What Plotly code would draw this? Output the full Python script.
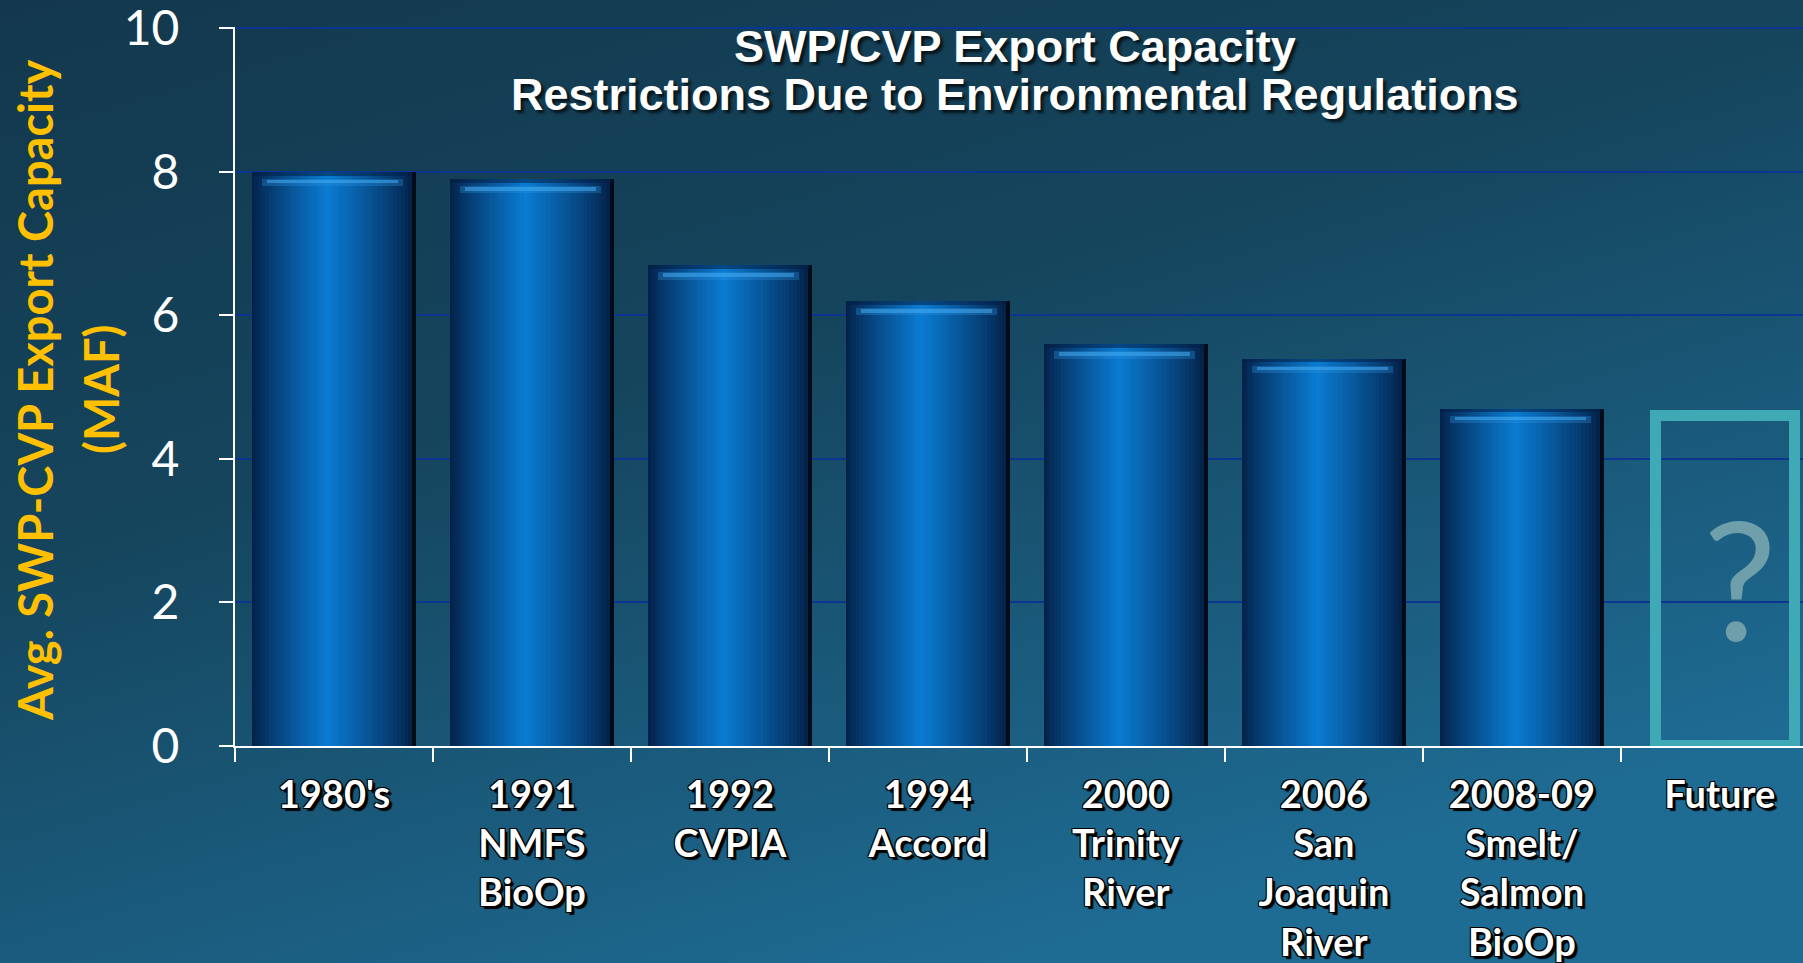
import base64
import plotly.graph_objects as go

# ---------------- data ----------------
categories = ["1980's", "1991<br>NMFS<br>BioOp", "1992<br>CVPIA", "1994<br>Accord",
              "2000<br>Trinity<br>River", "2006<br>San<br>Joaquin<br>River",
              "2008-09<br>Smelt/<br>Salmon<br>BioOp"]
capacity = [8.0, 7.9, 6.7, 6.2, 5.6, 5.4, 4.7]
future_category = ["Future"]
future_value = [4.6]
y_ticks = [0, 2, 4, 6, 8, 10]
title_lines = ["SWP/CVP Export Capacity", "Restrictions Due to Environmental Regulations"]
ytitle_lines = ["Avg. SWP-CVP Export Capacity", "(MAF)"]

W, H = 1803, 963
ML, MR, MT, MB = 235, 0, 27, 217
PW, PH = W - ML - MR, H - MT - MB

fig = go.Figure()

# background gradient (svg data uri)
svg = f'''<svg xmlns="http://www.w3.org/2000/svg" width="{W}" height="{H}" preserveAspectRatio="none" viewBox="0 0 {W} {H}">
<defs><linearGradient id="g" x1="0" y1="0" x2="0.55" y2="1">
<stop offset="0" stop-color="#13384d"/><stop offset="0.45" stop-color="#15455d"/>
<stop offset="1" stop-color="#1e6b93"/></linearGradient></defs>
<rect x="0" y="0" width="{W}" height="{H}" fill="url(#g)"/></svg>'''
src = "data:image/svg+xml;base64," + base64.b64encode(svg.encode()).decode()
fig.add_layout_image(dict(source=src, xref="paper", yref="paper",
                          x=-ML / PW, y=1 + MT / PH, sizex=W / PW, sizey=H / PH,
                          sizing="stretch", xanchor="left", yanchor="top", layer="below"))


def mix(c1, c2, t):
    a = [int(c1[i:i + 2], 16) for i in (1, 3, 5)]
    b = [int(c2[i:i + 2], 16) for i in (1, 3, 5)]
    return "#" + "".join(f"{round(x + (y - x) * t):02x}" for x, y in zip(a, b))


# cylinder-look bars: nested overlaid layers give a horizontal gradient
BW = 0.83
layers = [(0.0, 1.0, "#020b18"), (0.0, 0.975, "#04234a")]
N = 22
for k in range(1, N + 1):
    t = k / N
    layers.append((0.45 * t, 0.975 - 0.505 * t, mix("#04234a", "#0a7bd2", t ** 0.85)))
for l, r, c in layers:
    fig.add_trace(go.Bar(x=categories, y=capacity, width=(r - l) * BW,
                         offset=-BW / 2 + l * BW, marker=dict(color=c, line=dict(width=0)),
                         hoverinfo="skip", showlegend=False))
# top bevel: darker rim then a soft light band
fig.add_trace(go.Bar(x=categories, y=[0.05] * len(capacity), base=[v - 0.05 for v in capacity],
                     width=BW * 0.98, offset=-BW * 0.5,
                     marker=dict(color="rgba(3,30,70,0.55)", line=dict(width=0)),
                     hoverinfo="skip", showlegend=False))
fig.add_trace(go.Bar(x=categories, y=[0.1] * len(capacity), base=[v - 0.2 for v in capacity],
                     width=BW * 0.86, offset=-BW * 0.44,
                     marker=dict(color="rgba(50,150,225,0.3)", line=dict(width=0)),
                     hoverinfo="skip", showlegend=False))
fig.add_trace(go.Bar(x=categories, y=[0.045] * len(capacity), base=[v - 0.16 for v in capacity],
                     width=BW * 0.8, offset=-BW * 0.41,
                     marker=dict(color="rgba(70,175,245,0.5)", line=dict(width=0)),
                     hoverinfo="skip", showlegend=False))

# future placeholder box
fig.add_trace(go.Bar(x=future_category, y=future_value, width=0.7, offset=-0.32,
                     marker=dict(color="rgba(0,0,0,0)", line=dict(color="#3fa9b5", width=11)),
                     hoverinfo="skip", showlegend=False))

fig.add_annotation(x=7.1, y=2.35, xref="x", yref="y", text="?", showarrow=False,
                   font=dict(family="Lato", size=165, color="#6e9faa"))

# titles
title_font = dict(family="Liberation Sans, Arial, sans-serif", size=45, color="white",
                  weight="bold", shadow="3px 3px 3px rgba(0,0,0,0.7)")
fig.add_annotation(x=0.4975, y=(PH - 19) / PH, xref="paper", yref="paper",
                   text=title_lines[0], showarrow=False, yanchor="middle", font=title_font)
fig.add_annotation(x=0.4975, y=(PH - 68) / PH, xref="paper", yref="paper",
                   text=title_lines[1], showarrow=False, yanchor="middle", font=title_font)

# y title
for txt, xc in zip(ytitle_lines, [35, 101]):
    fig.add_annotation(x=(xc - ML) / PW, y=(746 - 390) / PH, xref="paper", yref="paper",
                       text=txt, showarrow=False, textangle=-90,
                       xanchor="center", yanchor="middle",
                       font=dict(family="Lato", size=47, color="#ffc000", weight="bold"))

fig.update_layout(
    width=W, height=H, margin=dict(l=ML, r=MR, t=MT, b=MB, pad=0), autosize=False,
    paper_bgcolor="#1a5878", plot_bgcolor="rgba(0,0,0,0)",
    barmode="overlay", bargap=0, showlegend=False,
    xaxis=dict(type="category", categoryorder="array", categoryarray=categories + future_category,
               range=[-0.5, 7.42], tickson="boundaries", ticks="outside", ticklen=14,
               tickwidth=2, tickcolor="white", showline=True, linecolor="white", linewidth=2,
               showgrid=False, ticklabelstandoff=14, automargin=False,
               tickfont=dict(family="Lato", size=38, color="white", weight="bold",
                             shadow="-1px -1px 0 #000, 1px -1px 0 #000, -1px 1px 0 #000, 1px 1px 0 #000, 3px 3px 1px #000")),
    yaxis=dict(range=[0, 10.02], tickvals=y_ticks, ticks="outside", ticklen=14, tickwidth=2,
               tickcolor="white", showline=True, linecolor="white", linewidth=2,
               showgrid=True, gridcolor="#0b3590", gridwidth=2, zeroline=False,
               ticklabelstandoff=30, automargin=False, ticklabeloverflow="allow",
               tickfont=dict(family="Lato", size=48, color="white")),
)

fig.write_html("out.html", config={"displayModeBar": False},
               post_script="document.body.style.margin='0';document.body.style.overflow='hidden';")
